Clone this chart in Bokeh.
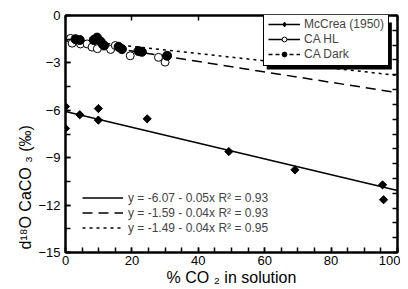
import numpy as np
from bokeh.plotting import figure
from bokeh.models import LinearAxis, FixedTicker, Legend, LegendItem, Title, BoxAnnotation
from bokeh.embed import file_html
from bokeh.resources import INLINE

# ---- data ----
mccrea_x = [0, 0, 4.3, 9.9, 9.9, 24.6, 49.2, 69.1, 95.5, 95.8]
mccrea_y = [-5.76, -7.15, -6.28, -5.89, -6.62, -6.54, -8.61, -9.77, -10.72, -11.66]

hl_x = [1.5, 2, 4.5, 6.5, 8, 9.6, 11, 13.6, 15, 19.5, 28, 30]
hl_y = [-1.45, -1.75, -1.8, -1.8, -2.0, -2.1, -1.8, -2.15, -1.9, -2.55, -2.65, -2.95]

dark_x = [3, 4.3, 8.5, 9.5, 10.6, 11.6, 16, 17, 22, 23, 30.6]
dark_y = [-1.5, -1.55, -1.55, -1.4, -1.65, -1.9, -1.98, -2.13, -2.25, -2.3, -2.55]

fit_intercepts = [-6.07, -1.59, -1.49]
fit_slopes = [-0.05, -0.033, -0.023]
eq_labels = ["y = -6.07 - 0.05x R\u00b2 = 0.93",
             "y = -1.59 - 0.04x R\u00b2 = 0.93",
             "y = -1.49 - 0.04x R\u00b2 = 0.95"]
series_names = ["McCrea (1950)", "CA HL", "CA Dark"]

x_ticks = [0, 20, 40, 60, 80, 100]
y_ticks = [-15, -12, -9, -6, -3, 0]
x_title = "% CO \u2082 in solution"
y_title = "d\u00b9\u2078O CaCO \u2083 (\u2030)"

FONT = "Liberation Sans"

p = figure(width=400, height=289, x_range=(0, 100), y_range=(-15, 0),
           output_backend="svg", toolbar_location=None,
           min_border_left=65, min_border_right=3, min_border_top=15, min_border_bottom=37,
           x_axis_label=x_title)
p.grid.visible = False
p.outline_line_color = "black"
p.outline_line_width = 2
p.background_fill_color = "white"
p.border_fill_color = "white"

xa = p.xaxis[0]
xa.ticker = FixedTicker(ticks=x_ticks, minor_ticks=list(np.arange(0, 101, 5)))
ya = p.yaxis[0]
ya.ticker = FixedTicker(ticks=y_ticks, minor_ticks=list(np.arange(-15, 0.1, 1.5)))
for ax in (xa, ya):
    ax.major_tick_in = 5
    ax.major_tick_out = 0
    ax.minor_tick_in = 5
    ax.minor_tick_out = 0
    ax.axis_line_width = 2
    ax.major_tick_line_width = 1.5
    ax.minor_tick_line_width = 1.5
    ax.major_label_text_font = FONT
    ax.major_label_text_font_size = "13px"
    ax.major_label_text_color = "black"
    ax.axis_label_text_font = FONT
    ax.axis_label_text_font_size = "16px"
    ax.axis_label_text_font_style = "normal"
    ax.axis_label_text_color = "black"
xa.major_label_standoff = 3
xa.axis_label_standoff = 1
ya.major_label_standoff = 5

r_ticks = [float(t) for t in np.linspace(-15, 0, 17)]
ra = LinearAxis(ticker=FixedTicker(ticks=r_ticks, minor_ticks=[]),
                major_label_overrides={t: "" for t in r_ticks},
                major_tick_in=5, major_tick_out=0,
                minor_tick_in=0, minor_tick_out=0, major_label_standoff=0,
                axis_line_width=2, major_tick_line_width=1.5)
p.add_layout(ra, "right")
ta = LinearAxis(ticker=FixedTicker(ticks=x_ticks, minor_ticks=[]),
                major_label_overrides={t: "" for t in x_ticks},
                major_tick_in=5, major_tick_out=0,
                minor_tick_in=0, minor_tick_out=0, major_label_standoff=0,
                axis_line_width=2, major_tick_line_width=1.5)
p.add_layout(ta, "above")

# y-axis title, placed low like the reference
p.add_layout(Title(text=y_title, align="left", offset=3, standoff=4,
                   text_font=FONT, text_font_size="16px", text_font_style="normal",
                   text_color="black"), "left")

# fit lines
fit_styles = [dict(line_dash="solid"), dict(line_dash="10 6"), dict(line_dash="3 4")]
fx = np.array([0, 100])
fit_renderers = []
for b, m, st in zip(fit_intercepts, fit_slopes, fit_styles):
    r = p.line(fx, b + m * fx, line_color="black", line_width=1.5, **st)
    fit_renderers.append(r)

# points
r_mc = p.scatter(mccrea_x, mccrea_y, marker="square", angle=np.pi / 4, size=5.8,
                 fill_color="black", line_color="black")
r_hl = p.scatter(hl_x, hl_y, marker="circle", size=8, fill_color="white",
                 line_color="black", line_width=1)
r_dk = p.scatter(dark_x, dark_y, marker="circle", size=9, fill_color="black",
                 line_color="black")

# legend-only samples (no data in view)
nan = [np.nan]
d1 = p.line(nan, nan, line_color="black", line_width=1.5)
d2 = p.line(nan, nan, line_color="black", line_width=1.5)
d3 = p.line(nan, nan, line_color="black", line_width=1.5, line_dash="4 3")
m1 = p.scatter(nan, nan, marker="diamond", size=10, fill_color="black", line_color="black")

# legend drop shadow
p.add_layout(BoxAnnotation(left=60.6, right=98.3, top=-0.44, bottom=-3.42,
                           fill_color="black", fill_alpha=1, line_color=None))

leg = Legend(items=[LegendItem(label=series_names[0], renderers=[d1, m1]),
                    LegendItem(label=series_names[1], renderers=[d2, r_hl]),
                    LegendItem(label=series_names[2], renderers=[d3, r_dk])],
             location=(198, 186), border_line_color="black", border_line_width=1.5,
             border_line_alpha=1.0,
             background_fill_color="white", background_fill_alpha=1,
             label_text_font=FONT, label_text_font_size="12px",
             label_height=12, glyph_height=12, glyph_width=32, spacing=1,
             padding=4, margin=0, label_standoff=4)
p.add_layout(leg)

eq_leg = Legend(items=[LegendItem(label=eq_labels[i], renderers=[fit_renderers[i]]) for i in range(3)],
                location=(17, 17), border_line_color=None, background_fill_alpha=0,
                label_text_font=FONT, label_text_font_size="12px",
                label_height=15, glyph_height=15, glyph_width=41, spacing=0,
                padding=0, margin=0, label_standoff=5)
p.add_layout(eq_leg)

open("out.html", "w").write(file_html(p, INLINE))
